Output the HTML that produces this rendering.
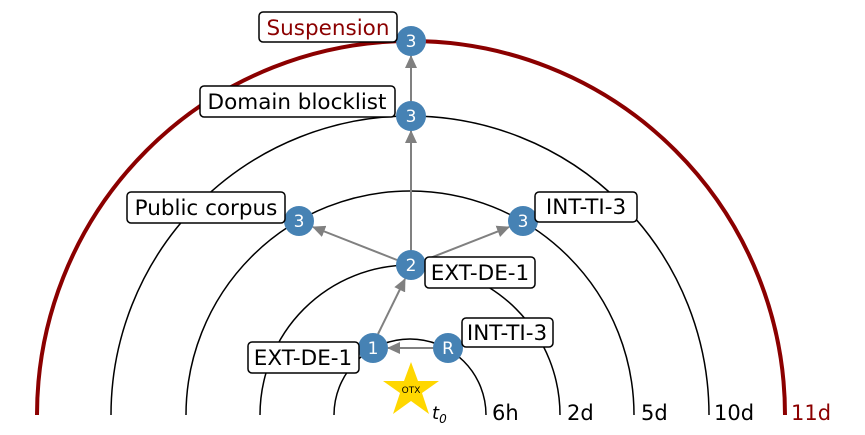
<!DOCTYPE html>
<html><head><meta charset="utf-8"><style>
html,body{margin:0;padding:0;background:#fff;}
svg{display:block;font-family:"DejaVu Sans","Liberation Sans",sans-serif;}
</style></head><body>
<svg width="865" height="435" viewBox="0 0 865 435" xmlns="http://www.w3.org/2000/svg">
<defs>
<marker id="ah" markerWidth="13" markerHeight="12" refX="12" refY="6" orient="auto" markerUnits="userSpaceOnUse">
<path d="M0,0 L13,6 L0,12 z" fill="#808080"/></marker>
</defs>
<g fill="none" stroke="#000" stroke-width="1.5">
<path d="M334,415 A76,76 0 0 1 486,415"/>
<path d="M260,415 A150,150 0 0 1 560,415"/>
<path d="M186,415 A224,224 0 0 1 634,415"/>
<path d="M111,415 A299,299 0 0 1 709,415"/>
</g>
<path d="M37,415 A374,374 0 0 1 785,415" fill="none" stroke="#8b0000" stroke-width="4"/>
<g stroke="#808080" stroke-width="2" marker-end="url(#ah)">
<line x1="434" y1="348" x2="388" y2="348"/>
<line x1="378" y1="334" x2="405" y2="279"/>
<line x1="397" y1="260" x2="313" y2="227"/>
<line x1="425" y1="260" x2="509" y2="227"/>
<line x1="411" y1="251" x2="411" y2="131"/>
<line x1="411" y1="102" x2="411" y2="56"/>
</g>
<g fill="#4682b4">
<circle cx="411" cy="41" r="15"/><circle cx="411" cy="116" r="15"/>
<circle cx="299" cy="221" r="15"/><circle cx="523" cy="221" r="15"/>
<circle cx="411" cy="265" r="15"/><circle cx="373" cy="348" r="15"/>
<circle cx="448" cy="348" r="15"/>
</g>
<g fill="#fff" font-size="17" text-anchor="middle">
<text x="411" y="47">3</text><text x="411" y="122">3</text>
<text x="299" y="227">3</text><text x="523" y="227">3</text>
<text x="411" y="271">2</text><text x="373" y="354">1</text>
<text x="448" y="354">R</text>
</g>
<polygon points="411,362 418,381 439,381 422,393 429,414 411,401 393,414 400,393 383,381 404,381" fill="#ffd700"/>
<text x="411" y="393" font-size="9" text-anchor="middle">OTX</text>
<text x="432" y="419" font-size="18" font-style="italic">t<tspan font-size="12" dy="4">0</tspan></text>
<g fill="#fff" stroke="#000" stroke-width="1.5">
<rect x="259" y="12" width="138" height="30" rx="4"/>
<rect x="200" y="86" width="195" height="31" rx="4"/>
<rect x="127" y="192" width="158" height="31" rx="4"/>
<rect x="535" y="192" width="102" height="30" rx="4"/>
<rect x="425" y="257" width="110" height="31" rx="4"/>
<rect x="462" y="318" width="91" height="29" rx="4"/>
<rect x="248" y="342" width="111" height="31" rx="4"/>
</g>
<g font-size="21.5" fill="#000" text-anchor="middle">
<text x="328" y="35" fill="#8b0000">Suspension</text>
<text x="297" y="109">Domain blocklist</text>
<text x="206" y="215">Public corpus</text>
<text x="586" y="214">INT-TI-3</text>
<text x="480" y="280">EXT-DE-1</text>
<text x="507" y="340">INT-TI-3</text>
<text x="303" y="365">EXT-DE-1</text>
</g>
<g font-size="21">
<text x="492" y="420">6h</text><text x="567" y="420">2d</text>
<text x="641" y="420">5d</text><text x="714" y="420">10d</text>
<text x="791" y="420" fill="#8b0000">11d</text>
</g>
</svg>
</body></html>
